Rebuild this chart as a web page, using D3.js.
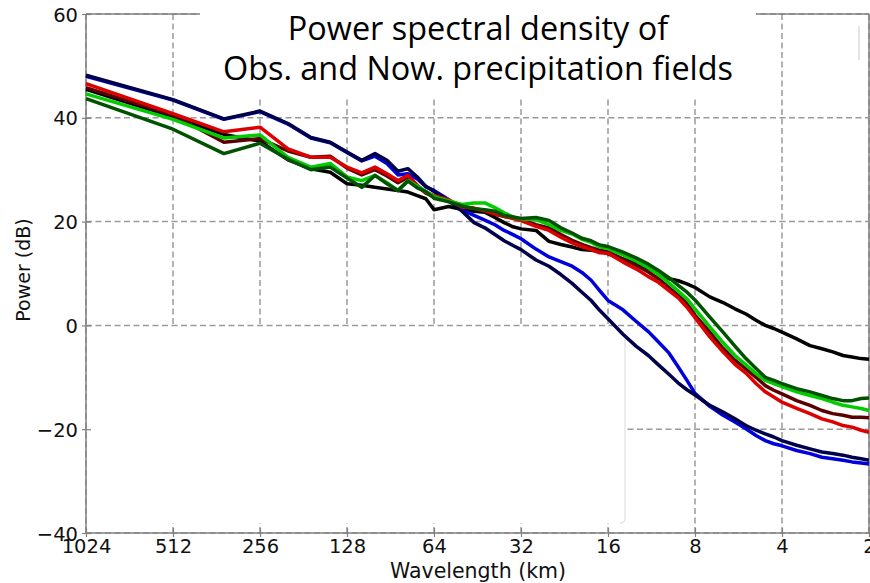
<!DOCTYPE html>
<html>
<head>
<meta charset="utf-8">
<script src="https://cdn.jsdelivr.net/npm/d3@7"></script>
<style>
  body { margin: 0; background: #fff; }
</style>
</head>
<body>
<div id="psd-chart"></div>
<script>
// Wavelength (km) of each sampled point (1024 / wavenumber)
var wavelengths = [1024, 512, 341.3, 256, 204.8, 170.7, 146.3, 128, 113.8, 102.4, 93.1, 85.3, 78.8, 73.1, 68.3, 64,
    56.9, 51.2, 46.5, 42.7, 39.4, 36.6, 34.1, 32, 28.4, 25.6, 23.3, 21.3, 19.7, 18.3, 17.1, 16,
    14.2, 12.8, 11.6, 10.7, 9.85, 9.14, 8.53, 8, 7.11, 6.4, 5.82, 5.33, 4.92, 4.57, 4.27, 4,
    3.56, 3.2, 2.91, 2.67, 2.46, 2.29, 2.13, 2];

// Power (dB)
var navyPower = [48.2, 43.5, 39.8, 41.3, 38.9, 36.2, 35.3, 33.4, 31.8, 33.1, 31.8, 29.7, 30.2, 28.6, 26.8, 25.8,
    24.0, 22.0, 19.8, 18.8, 17.5, 16.3, 15.4, 14.6, 12.6, 11.4, 9.8, 8.1, 6.4, 4.8, 2.9, 1.3,
    -1.7, -4.0, -5.8, -7.6, -9.4, -11.1, -12.4, -13.4, -15.4, -16.7, -18.0, -19.3, -20.2, -20.9, -21.5, -22.2,
    -23.1, -23.8, -24.4, -24.7, -25.0, -25.4, -25.7, -26.0];
var bluePower = [48.0, 43.4, 39.7, 41.2, 38.8, 36.1, 35.2, 33.3, 31.7, 32.6, 31.2, 29.0, 29.2, 28.2, 26.7, 26.0,
    24.2, 22.2, 21.2, 20.3, 19.4, 18.3, 17.5, 16.7, 14.7, 13.2, 12.3, 11.4, 10.2, 8.7, 6.7, 4.8,
    3.0, 0.8, -1.2, -3.2, -5.3, -8.0, -10.6, -13.1, -15.6, -17.3, -18.6, -19.9, -21.2, -22.2, -22.8, -23.2,
    -24.1, -24.7, -25.4, -25.7, -26.0, -26.3, -26.5, -26.7];
var redPower = [46.6, 40.8, 37.3, 38.2, 34.0, 32.4, 32.4, 30.5, 29.4, 30.5, 29.2, 27.9, 28.9, 27.0, 25.7, 25.0,
    24.2, 22.8, 22.6, 22.1, 21.5, 21.0, 20.6, 20.2, 19.1, 18.3, 17.0, 15.9, 15.2, 14.6, 14.0, 13.9,
    12.2, 10.9, 9.4, 8.3, 6.7, 5.3, 3.5, 1.5, -2.2, -5.1, -7.5, -9.2, -11.2, -12.8, -13.8, -14.8,
    -16.0, -17.0, -18.0, -18.6, -19.3, -19.6, -20.2, -20.6];
var darkRedPower = [45.8, 40.5, 35.3, 36.0, 33.6, 32.4, 32.6, 30.3, 29.0, 30.0, 28.8, 27.5, 28.5, 26.8, 25.5, 24.8,
    24.0, 22.8, 22.5, 22.0, 21.4, 21.0, 20.7, 20.4, 19.4, 18.8, 17.5, 16.4, 15.6, 15.0, 14.5, 14.2,
    12.8, 11.6, 10.3, 9.0, 7.3, 5.8, 4.2, 2.0, -1.3, -4.4, -6.7, -8.4, -10.0, -11.6, -12.5, -13.2,
    -14.5, -15.4, -16.4, -17.0, -17.3, -17.7, -17.7, -17.8];
var greenPower = [44.6, 39.7, 36.1, 36.7, 32.4, 30.5, 31.2, 28.6, 27.9, 28.9, 27.5, 26.0, 27.9, 26.8, 25.8, 24.8,
    24.0, 23.3, 23.6, 23.6, 22.7, 21.7, 20.9, 20.5, 20.4, 19.4, 18.3, 17.6, 16.6, 16.0, 15.1, 14.8,
    13.6, 12.4, 11.1, 9.8, 8.2, 6.6, 5.1, 3.2, -0.3, -3.3, -5.8, -7.6, -9.3, -10.6, -11.2, -11.8,
    -12.8, -13.5, -14.1, -14.8, -15.4, -15.7, -16.0, -16.4];
var darkGreenPower = [43.7, 37.8, 33.1, 35.1, 32.0, 30.0, 30.5, 28.4, 26.6, 28.9, 27.3, 26.0, 27.8, 26.5, 25.8, 24.5,
    23.8, 23.0, 22.5, 22.3, 22.0, 21.2, 20.9, 20.6, 20.8, 20.2, 18.8, 17.8, 16.8, 16.3, 15.5, 15.2,
    14.1, 13.0, 11.8, 10.6, 9.2, 7.7, 6.4, 4.9, 1.6, -1.3, -4.0, -6.4, -8.3, -10.0, -10.6, -11.2,
    -12.2, -12.8, -13.5, -14.1, -14.5, -14.5, -14.1, -14.0];
var blackPower = [45.5, 40.2, 36.8, 35.5, 31.9, 30.2, 29.5, 27.3, 27.0, 26.6, 26.3, 26.0, 25.7, 25.0, 24.4, 22.3,
    22.9, 22.3, 22.0, 21.8, 20.8, 19.8, 19.0, 18.6, 18.3, 16.2, 15.6, 15.1, 14.6, 14.5, 14.3, 13.8,
    12.8, 11.9, 11.0, 10.0, 9.0, 8.6, 8.0, 7.3, 5.5, 4.4, 3.2, 2.2, 1.0, 0.0, -0.6, -1.3,
    -2.6, -3.9, -4.5, -5.1, -5.8, -6.1, -6.4, -6.5];

var xTickValues = [1024, 512, 256, 128, 64, 32, 16, 8, 4, 2];
var yTickValues = [-40, -20, 0, 20, 40, 60];

function createPsdChart() {

var width = 870, height = 583;

// log2 wavelength axis, large scales on the left
var x = d3.scaleLog().base(2).domain([1024, 2]).range([86, 869]);
var y = d3.scaleLinear().domain([-40, 60]).range([533, 14]);

var svg = d3.select("#psd-chart")
    .append("svg")
    .attr("width", width)
    .attr("height", height)
    .style("font-family", "'DejaVu Sans', sans-serif");

var series = [
    { name: "black", color: "#000000", values: blackPower },
    { name: "blue", color: "#0000dd", values: bluePower },
    { name: "navy", color: "#00004a", values: navyPower },
    { name: "darkred", color: "#5a0000", values: darkRedPower },
    { name: "red", color: "#dd0000", values: redPower },
    { name: "green", color: "#00cc00", values: greenPower },
    { name: "darkgreen", color: "#005200", values: darkGreenPower }
];

var gridColor = "#9a9a9a";

// Grid lines
svg.append("g").selectAll("line")
    .data(xTickValues)
    .enter().append("line")
    .attr("x1", function(d) { return x(d); })
    .attr("x2", function(d) { return x(d); })
    .attr("y1", y(60))
    .attr("y2", y(-40))
    .attr("stroke", gridColor)
    .attr("stroke-width", 1.5)
    .attr("stroke-dasharray", "6,3.5");

svg.append("g").selectAll("line")
    .data(yTickValues)
    .enter().append("line")
    .attr("x1", x(1024))
    .attr("x2", x(2))
    .attr("y1", function(d) { return y(d); })
    .attr("y2", function(d) { return y(d); })
    .attr("stroke", gridColor)
    .attr("stroke-width", 1.5)
    .attr("stroke-dasharray", "6,3.5");

// Pasted-over white panel in the lower left
svg.append("rect")
    .attr("x", 87)
    .attr("y", 327)
    .attr("width", 538)
    .attr("height", 196)
    .attr("fill", "#fff");
svg.append("path")
    .attr("d", "M625,338 L625,518 Q625,523 620,523")
    .attr("fill", "none")
    .attr("stroke", "#d8d8d8")
    .attr("stroke-width", 1);

// White title box over the top of the frame
svg.append("rect")
    .attr("x", 200)
    .attr("y", 0)
    .attr("width", 556)
    .attr("height", 98)
    .attr("fill", "#fff");

// Frame (spines)
var spine = "#808080";
svg.append("line").attr("x1", 86).attr("x2", 86).attr("y1", 14).attr("y2", 533)
    .attr("stroke", spine).attr("stroke-width", 1.5);
svg.append("line").attr("x1", 86).attr("x2", 869).attr("y1", 533).attr("y2", 533)
    .attr("stroke", spine).attr("stroke-width", 1.5);
svg.append("line").attr("x1", 869).attr("x2", 869).attr("y1", 14).attr("y2", 533)
    .attr("stroke", spine).attr("stroke-width", 1.5);
svg.append("line").attr("x1", 86).attr("x2", 200).attr("y1", 14).attr("y2", 14)
    .attr("stroke", spine).attr("stroke-width", 1.5);
svg.append("line").attr("x1", 756).attr("x2", 869).attr("y1", 14).attr("y2", 14)
    .attr("stroke", spine).attr("stroke-width", 1.5);
svg.append("line").attr("x1", 859).attr("x2", 859).attr("y1", 26).attr("y2", 60)
    .attr("stroke", "#c8c8c8").attr("stroke-width", 1);

// Axes
var xAxis = d3.axisBottom(x)
    .tickValues(xTickValues)
    .tickFormat(d3.format("d"))
    .tickSizeInner(4)
    .tickSizeOuter(0)
    .tickPadding(4);
var yAxis = d3.axisLeft(y)
    .tickValues(yTickValues)
    .tickFormat(function(d) { return d < 0 ? "\u2212" + Math.abs(d) : d; })
    .tickSizeInner(4)
    .tickSizeOuter(0)
    .tickPadding(4);

var gx = svg.append("g")
    .attr("transform", "translate(0,533)")
    .call(xAxis);
var gy = svg.append("g")
    .attr("transform", "translate(86,0)")
    .call(yAxis);

[gx, gy].forEach(function(g) {
    g.select(".domain").remove();
    g.selectAll(".tick line").attr("stroke", spine).attr("stroke-width", 1.2);
    g.selectAll(".tick text")
        .attr("fill", "#111")
        .style("font-family", "'DejaVu Sans', sans-serif")
        .style("font-size", "19.5px");
});
// ticks cross the spine
gx.selectAll(".tick line").attr("y1", -5).attr("y2", 4);
gy.selectAll(".tick line").attr("x1", 5).attr("x2", -4);
gx.selectAll(".tick text").attr("y", 6);
gy.selectAll(".tick text").attr("x", -8).attr("dy", "0.36em");

// Curves
var line = d3.line()
    .x(function(d) { return x(d.w); })
    .y(function(d) { return y(d.v); });

svg.append("g").selectAll("path")
    .data(series)
    .enter().append("path")
    .attr("d", function(s) {
        return line(s.values.map(function(v, i) { return { w: wavelengths[i], v: v }; }));
    })
    .attr("fill", "none")
    .attr("stroke", function(s) { return s.color; })
    .attr("stroke-width", 3.5)
    .attr("stroke-linejoin", "round");

// Axis labels
svg.append("text")
    .attr("text-anchor", "middle")
    .attr("x", 478)
    .attr("y", 578)
    .text("Wavelength (km)")
    .style("font-size", "20.5px")
    .style("fill", "#111");

svg.append("text")
    .attr("text-anchor", "middle")
    .attr("transform", "translate(30,270) rotate(-90)")
    .text("Power (dB)")
    .style("font-size", "19px")
    .style("fill", "#111");

// Title
svg.append("text")
    .attr("text-anchor", "middle")
    .attr("x", 478)
    .attr("y", 40)
    .text("Power spectral density of")
    .style("font-family", "'Open Sans', sans-serif")
    .style("font-size", "32.4px")
    .style("fill", "#000");
svg.append("text")
    .attr("text-anchor", "middle")
    .attr("x", 478)
    .attr("y", 80)
    .text("Obs. and Now. precipitation fields")
    .style("font-family", "'Open Sans', sans-serif")
    .style("font-size", "32.4px")
    .style("fill", "#000");
}
createPsdChart();
</script>
</body>
</html>
